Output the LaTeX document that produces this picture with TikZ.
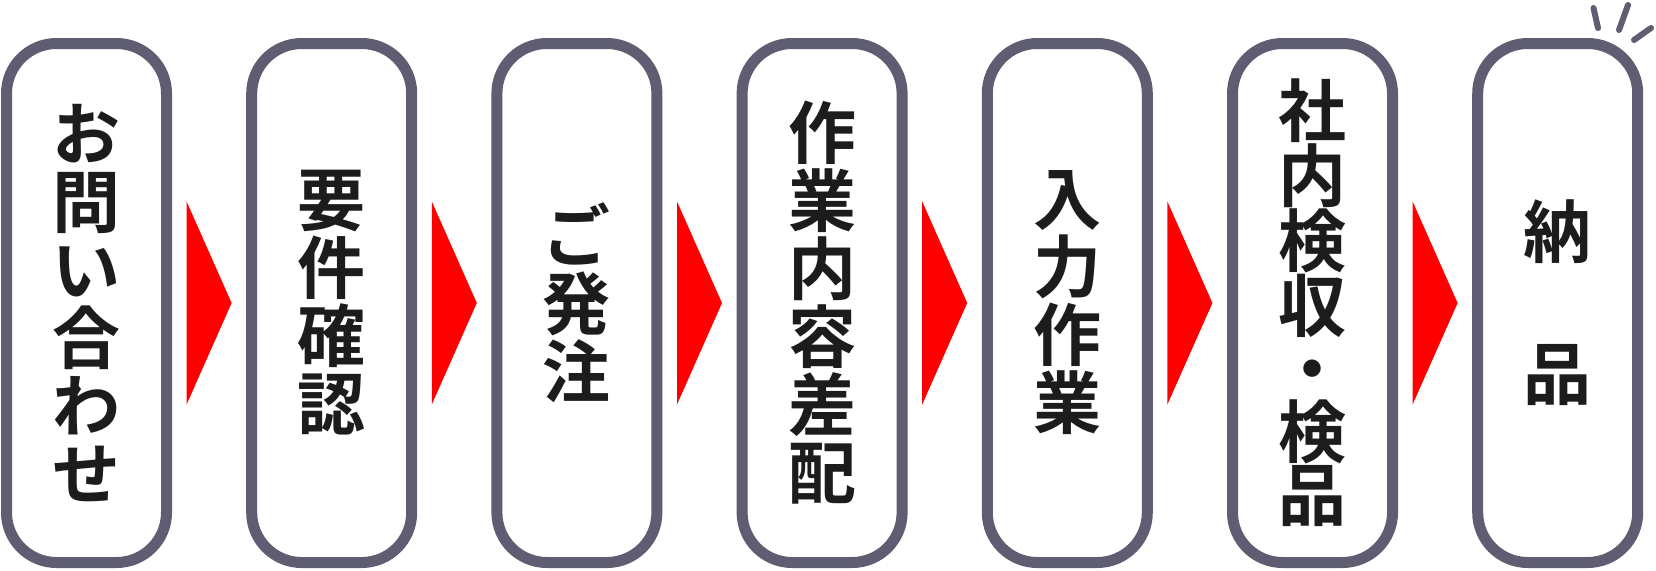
\documentclass[tikz,border=0pt]{standalone}
\usepackage{fontspec}
\newfontfamily\jpfont{Noto Sans CJK JP}[BoldFont={Noto Sans CJK JP Bold}]
\usetikzlibrary{positioning,calc}
\definecolor{boxgray}{RGB}{95,93,114}
\definecolor{textblack}{RGB}{28,28,28}
\definecolor{arrowred}{RGB}{255,0,0}
\tikzset{
  stepbox/.style={draw=boxgray, fill=white, line width=11pt, rounded corners=50pt,
    minimum width=160pt, minimum height=519pt, inner sep=0pt, align=center,
    text=textblack, font=\jpfont\bfseries\fontsize{68}{68}\selectfont},
  sparkle/.style={draw=boxgray, line width=6pt, line cap=round}
}

\begin{document}
\begin{tikzpicture}[x=1pt,y=-1pt]
                \useasboundingbox (0,0) rectangle (1656,570);

                % Steps
                \node[stepbox] (b1) at (86.5,303) {お\\問\\い\\合\\わ\\せ};
                \node[stepbox, right=74.2pt of b1] (b2) {要\\件\\確\\認};
                \node[stepbox, right=74.2pt of b2] (b3) {ご\\発\\注};
                \node[stepbox, right=74.2pt of b3] (b4) {作\\業\\内\\容\\差\\配};
                \node[stepbox, right=74.2pt of b4] (b5) {入\\力\\作\\業};
                \node[stepbox, right=74.2pt of b5, font=\jpfont\bfseries\fontsize{68}{63}\selectfont] (b6) {社\\内\\検\\収\\・\\検\\品};
                \node[stepbox, right=74.2pt of b6, font=\jpfont\bfseries\fontsize{68}{71}\selectfont] (b7) {納\\　\\品};

                % Red arrows between steps
                \coordinate (m1) at ($(b1.east)!0.5!(b2.west)$);
                \coordinate (m2) at ($(b2.east)!0.5!(b3.west)$);
                \coordinate (m3) at ($(b3.east)!0.5!(b4.west)$);
                \coordinate (m4) at ($(b4.east)!0.5!(b5.west)$);
                \coordinate (m5) at ($(b5.east)!0.5!(b6.west)$);
                \coordinate (m6) at ($(b6.east)!0.5!(b7.west)$);
                \fill[arrowred] ($(m1)+(-22.5,-101.5)$) -- ++(45,101.5) -- ++(-45,101.5) -- cycle;
                \fill[arrowred] ($(m2)+(-22.5,-101.5)$) -- ++(45,101.5) -- ++(-45,101.5) -- cycle;
                \fill[arrowred] ($(m3)+(-22.5,-101.5)$) -- ++(45,101.5) -- ++(-45,101.5) -- cycle;
                \fill[arrowred] ($(m4)+(-22.5,-101.5)$) -- ++(45,101.5) -- ++(-45,101.5) -- cycle;
                \fill[arrowred] ($(m5)+(-22.5,-101.5)$) -- ++(45,101.5) -- ++(-45,101.5) -- cycle;
                \fill[arrowred] ($(m6)+(-22.5,-101.5)$) -- ++(45,101.5) -- ++(-45,101.5) -- cycle;

                % Sparkle on the last step
                \draw[sparkle] (1593.5,8) -- (1598,28);
                \draw[sparkle] (1628,5) -- (1619,30);
                \draw[sparkle] (1651,28) -- (1634,40);
            \end{tikzpicture}
\end{document}
